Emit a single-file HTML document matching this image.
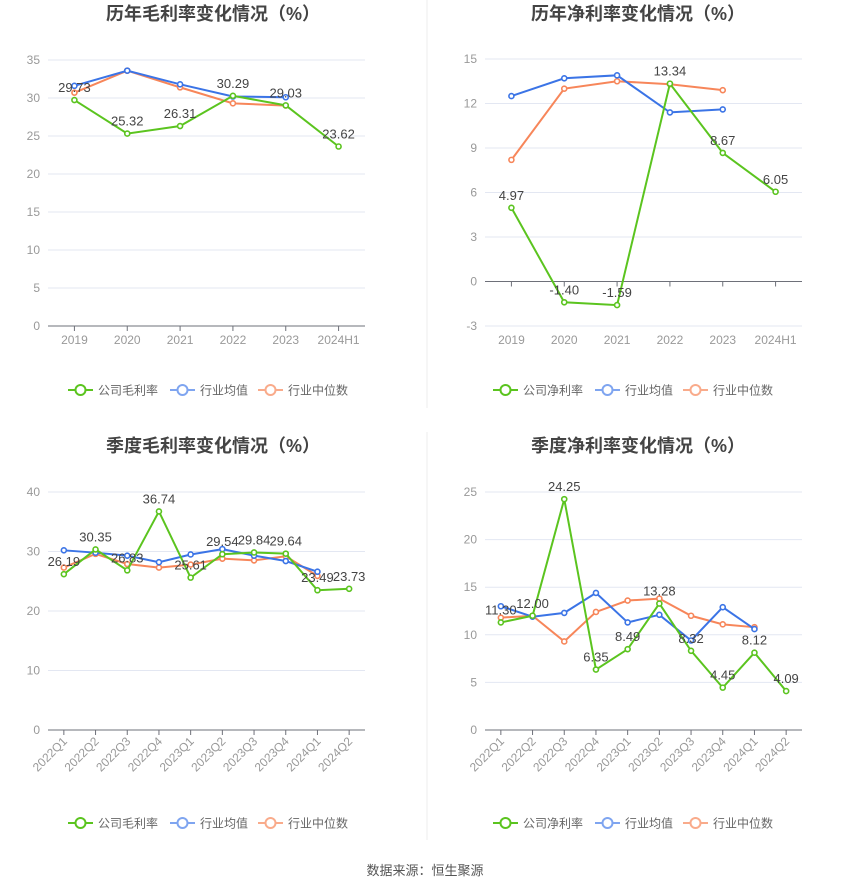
<!DOCTYPE html>
<html><head><meta charset="utf-8"><style>
body{margin:0;background:#fff;font-family:"Liberation Sans","Noto Sans CJK SC",sans-serif;}
#wrap{position:relative;width:850px;height:891px;}
svg text{font-family:"Liberation Sans","Noto Sans CJK SC",sans-serif;}
</style></head><body>
<div id="wrap">
<svg id="svg" width="850" height="891">
<line x1="427" y1="0" x2="427" y2="408" stroke="#eee"/>
<line x1="427" y1="432" x2="427" y2="840" stroke="#eee"/>
<text x="425" y="875" text-anchor="middle" font-size="13" fill="#555">数据来源：恒生聚源</text>
</svg>
</div>
<script>
const yearCats=["2019","2020","2021","2022","2023","2024H1"];
const qCats=["2022Q1","2022Q2","2022Q3","2022Q4","2023Q1","2023Q2","2023Q3","2023Q4","2024Q1","2024Q2"];
const c1Company=[29.73,25.32,26.31,30.29,29.03,23.62];
const c1Avg=[31.6,33.6,31.8,30.2,30.1];
const c1Median=[30.7,33.6,31.4,29.3,29.0];
const c1Ticks=[0,5,10,15,20,25,30,35];
const c2Company=[4.97,-1.40,-1.59,13.34,8.67,6.05];
const c2Avg=[12.5,13.7,13.9,11.4,11.6];
const c2Median=[8.2,13.0,13.5,13.3,12.9];
const c2Ticks=[-3,0,3,6,9,12,15];
const c3Company=[26.19,30.35,26.83,36.74,25.61,29.54,29.84,29.64,23.49,23.73];
const c3Avg=[30.2,29.8,29.3,28.2,29.5,30.4,29.3,28.4,26.6];
const c3Median=[27.3,29.6,27.9,27.3,27.8,28.8,28.5,29.2,25.9];
const c3Ticks=[0,10,20,30,40];
const c4Company=[11.30,12.00,24.25,6.35,8.49,13.28,8.32,4.45,8.12,4.09];
const c4Avg=[13.0,11.9,12.3,14.4,11.3,12.1,9.4,12.9,10.6];
const c4Median=[11.8,12.0,9.3,12.4,13.6,13.8,12.0,11.1,10.8];
const c4Ticks=[0,5,10,15,20,25];

const NS="http://www.w3.org/2000/svg";
const svg=document.getElementById('svg');
const GREEN="#5bc41f",BLUE="#3b74e6",ORANGE="#f7865a";
function mk(tag,attrs,parent){const e=document.createElementNS(NS,tag);for(const k in attrs)e.setAttribute(k,attrs[k]);(parent||svg).appendChild(e);return e;}

function draw(o){
  const g=mk('g',{});
  
  
  const ymin=o.ticks[0],ymax=o.ticks[o.ticks.length-1];
  const Y=v=>o.yb+(v-ymin)/(ymax-ymin)*(o.yt-o.yb);
  const bw=(o.x1-o.x0)/o.cats.length;
  const X=i=>o.x0+bw*(i+0.5);
  const t=mk('text',{x:o.cx,y:o.ty,'text-anchor':'middle','font-size':18,'font-weight':'bold',fill:'#444'},g);
  t.textContent=o.title;
  
  
  o.ticks.forEach(v=>{
    const l=mk('line',{x1:o.x0,x2:o.x1,y1:Y(v),y2:Y(v),stroke:'#e3e7f2'},g);
    
    
    const tl=mk('text',{x:o.x0-8,y:Y(v)+4,'text-anchor':'end','font-size':12,fill:'#999'},g);
    tl.textContent=v;
    
    
  });
  const ax=Y(Math.max(0,ymin));
  const axl=mk('line',{x1:o.x0,x2:o.x1,y1:ax,y2:ax,stroke:'#6e7079'},g);
  
  
  o.cats.forEach((c,i)=>{
    mk('line',{x1:X(i),x2:X(i),y1:ax,y2:ax+5,stroke:'#6e7079'},g);
    let tx;
    if(o.rot){tx=mk('text',{x:X(i)+4,y:ax+12,'text-anchor':'end','font-size':12,fill:'#999',transform:`rotate(-45 ${X(i)+4} ${ax+12})`},g);}
    else{tx=mk('text',{x:X(i),y:Y(ymin)+18,'text-anchor':'middle','font-size':12,fill:'#999'},g);}
    tx.textContent=c;
    
    
  });
  const series=[[o.med,ORANGE,'industry-median-line'],[o.avg,BLUE,'industry-average-line'],[o.comp,GREEN,'company-line']];
  series.forEach(([d,col,nm])=>{
    const p=mk('polyline',{points:d.map((v,i)=>X(i)+','+Y(v)).join(' '),fill:'none',stroke:col,'stroke-width':2},g);
    
    
    d.forEach((v,i)=>{
      const c=mk('circle',{cx:X(i),cy:Y(v),r:2.5,fill:'#fff',stroke:col,'stroke-width':1.6},g);
      
      
    });
  });
  o.comp.forEach((v,i)=>{
    const lb=mk('text',{x:X(i),y:Y(v)-8,'text-anchor':'middle','font-size':13,fill:'#444'},g);
    lb.textContent=v.toFixed(2);
    
    
  });
  const items=[[o.legend,GREEN],['行业均值','#7fa5f0'],['行业中位数','#f9ab8b']];
  const lx=[o.cx-145,o.cx-43,o.cx+45];
  items.forEach(([txt,col],j)=>{
    const lg=mk('g',{},g);
    
    
    const x=lx[j];
    mk('line',{x1:x,x2:x+25,y1:o.ly,y2:o.ly,stroke:col,'stroke-width':2},lg);
    mk('circle',{cx:x+12.5,cy:o.ly,r:5,fill:'#fff',stroke:col,'stroke-width':2},lg);
    const tt=mk('text',{x:x+30,y:o.ly+4.5,'font-size':12,fill:'#666'},lg);
    tt.textContent=txt;
  });
}
draw({name:'annual-gross-margin-chart',title:'历年毛利率变化情况（%）',cx:213,ty:20,x0:48,x1:365,yt:60,yb:326,ticks:c1Ticks,cats:yearCats,comp:c1Company,avg:c1Avg,med:c1Median,legend:'公司毛利率',ly:390});
draw({name:'annual-net-margin-chart',title:'历年净利率变化情况（%）',cx:638,ty:20,x0:485,x1:802,yt:59,yb:326,ticks:c2Ticks,cats:yearCats,comp:c2Company,avg:c2Avg,med:c2Median,legend:'公司净利率',ly:390});
draw({name:'quarterly-gross-margin-chart',title:'季度毛利率变化情况（%）',cx:213,ty:452,x0:48,x1:365,yt:492,yb:730,ticks:c3Ticks,cats:qCats,comp:c3Company,avg:c3Avg,med:c3Median,legend:'公司毛利率',ly:823,rot:true});
draw({name:'quarterly-net-margin-chart',title:'季度净利率变化情况（%）',cx:638,ty:452,x0:485,x1:802,yt:492,yb:730,ticks:c4Ticks,cats:qCats,comp:c4Company,avg:c4Avg,med:c4Median,legend:'公司净利率',ly:823,rot:true});
</script>
</body></html>
